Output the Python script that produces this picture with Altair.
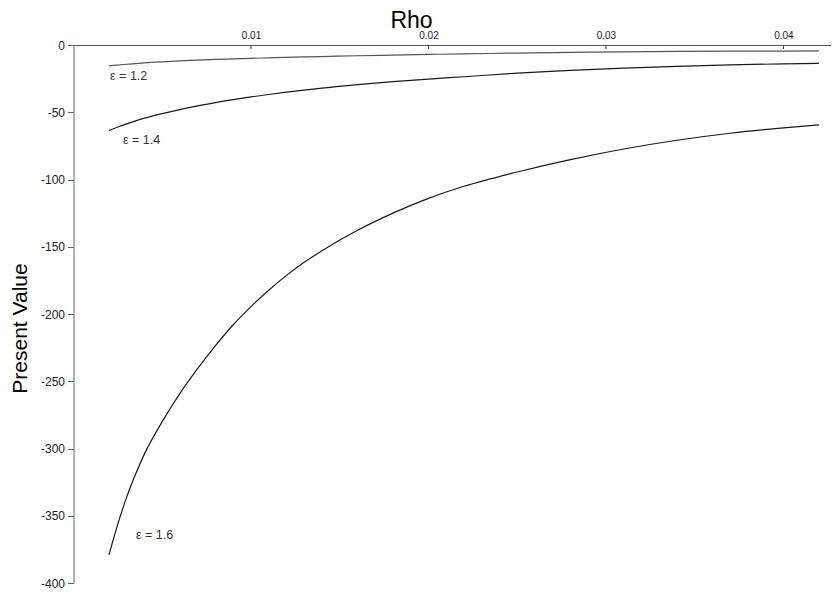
import altair as alt
import pandas as pd

rho = [0.002, 0.0025, 0.003, 0.0035, 0.004, 0.005, 0.006, 0.007, 0.008, 0.009,
       0.010, 0.011, 0.012, 0.013, 0.014, 0.016, 0.018, 0.020, 0.022, 0.025,
       0.028, 0.031, 0.034, 0.037, 0.040, 0.042]
pv_12 = [-15.5, -14.9, -14.3, -13.8, -13.3, -12.5, -11.8, -11.2, -10.7, -10.3,
         -9.9, -9.55, -9.2, -8.9, -8.6, -8.0, -7.5, -7.0, -6.6, -6.0,
         -5.5, -5.1, -4.8, -4.6, -4.5, -4.4]
pv_14 = [-63.6, -61.0, -58.6, -56.4, -54.4, -51.0, -48.0, -45.3, -42.8, -40.6,
         -38.6, -36.8, -35.1, -33.5, -32.0, -29.4, -27.2, -25.3, -23.6, -20.9,
         -18.9, -17.2, -15.9, -14.8, -14.0, -13.7]
pv_16 = [-379, -356, -336, -319, -304, -280, -259, -240.5, -223.5, -208,
         -194.5, -182.3, -171.3, -161.6, -153, -137.8, -125, -114, -105, -94.4,
         -85.2, -77.3, -70.8, -65.6, -61.6, -59.4]

series_names = ["e12", "e14", "e16"]
label_texts = ["ε = 1.2", "ε = 1.4", "ε = 1.6"]
label_rho = [0.00206, 0.00279, 0.00352]
label_pv = [-23, -71, -364]
x_ticks = [0.01, 0.02, 0.03, 0.04]
y_ticks = [0, -50, -100, -150, -200, -250, -300, -350, -400]

rows = []
for name, vals in zip(series_names, [pv_12, pv_14, pv_16]):
    for r, v in zip(rho, vals):
        rows.append({"rho": r, "pv": v, "series": name})
df = pd.DataFrame(rows)
labels = pd.DataFrame({"rho": label_rho, "pv": label_pv, "text": label_texts})
ticks = pd.DataFrame({"rho": x_ticks})

xscale = alt.Scale(domain=[0, 0.04268], nice=False, zero=False)
yscale = alt.Scale(domain=[-400, 0], nice=False)

lines = alt.Chart(df).mark_line(strokeWidth=1.2, interpolate="monotone").encode(
    x=alt.X("rho:Q", scale=xscale, axis=alt.Axis(
        orient="top", values=x_ticks, format=".2f", ticks=False, grid=False,
        domainColor="#555", labelFontSize=10, labelColor="#222",
        labelFont="Liberation Sans", labelPadding=5,
        title="Rho", titleFont="Liberation Sans", titleFontSize=23,
        titleFontWeight="normal", titleColor="#000",
        titleX=337.5, titleY=-17.5, titleAlign="center",
        titleBaseline="alphabetic")),
    y=alt.Y("pv:Q", scale=yscale, axis=alt.Axis(
        values=y_ticks, labelExpr="datum.value + ''", grid=False,
        domainColor="#666", tickColor="#666", tickSize=6, labelFontSize=12,
        labelColor="#222", labelFont="Liberation Sans", labelPadding=3,
        title="Present Value", titleFont="Liberation Sans", titleFontSize=21,
        titleFontWeight="normal", titleColor="#000", titleAngle=-90,
        titleX=-47.5, titleY=283, titleAlign="center",
        titleBaseline="alphabetic")),
    color=alt.Color("series:N", scale=alt.Scale(domain=series_names,
                    range=["#555555", "#1a1a1a", "#1a1a1a"]), legend=None),
)

tick_marks = alt.Chart(ticks).mark_rule(color="#333", strokeWidth=1).encode(
    x=alt.X("rho:Q", scale=xscale),
    y=alt.value(0),
    y2=alt.value(4),
)

text = alt.Chart(labels).mark_text(
    align="left", baseline="middle", fontSize=12.5, font="Liberation Sans",
    color="#333"
).encode(
    x=alt.X("rho:Q", scale=xscale),
    y=alt.Y("pv:Q", scale=yscale),
    text="text:N",
)

chart = alt.layer(lines, tick_marks, text).properties(
    width=757.5, height=538,
    autosize=alt.AutoSizeParams(type="none"),
    padding={"left": 65.5, "top": 37, "right": 0, "bottom": 5},
    background="white",
).configure_view(stroke=None)

chart.save("out.html", embed_options={"renderer": "svg", "actions": False})
